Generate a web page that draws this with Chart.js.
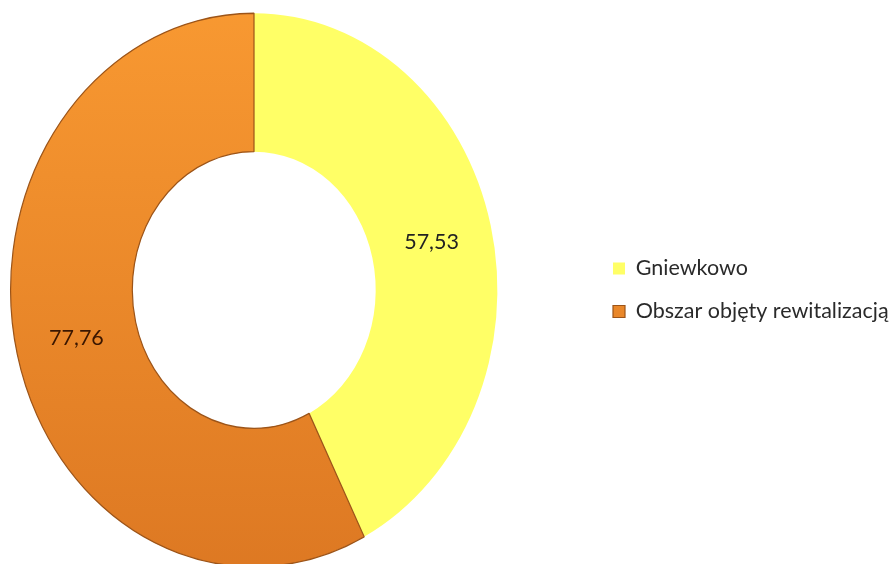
<!DOCTYPE html>
<html>
<head>
<meta charset="utf-8">
<script src="https://cdn.jsdelivr.net/npm/chart.js@4/dist/chart.umd.min.js"></script>
<style>
    html, body { margin: 0; padding: 0; background: #fff; }
    #wrap { width: 890px; height: 564px; }
</style>
</head>
<body>
<div id="wrap"><canvas id="myChart" width="890" height="564"></canvas></div>
<script>
const categories = ['Gniewkowo', 'Obszar objęty rewitalizacją'];
const values = [57.53, 77.76];
const sliceColors = ['#FFFF66', '#F0892B'];

// Excel squashed the ring a bit - stretch it vertically
const stretchY = 1.137;

function sliceFill(context) {
    const chart = context.chart;
    if (context.dataIndex === 0) return sliceColors[0];
    if (!chart.chartArea) return sliceColors[1];
    const g = chart.ctx.createLinearGradient(0, 20, 0, 560);
    g.addColorStop(0, '#F99A32');
    g.addColorStop(1, '#DC7722');
    return g;
}

const ringPlugin = {
    id: 'ring',
    beforeDatasetsDraw(chart) {
        const arc = chart.getDatasetMeta(0).data[0];
        const ctx = chart.ctx;
        ctx.save();
        ctx.translate(arc.x, arc.y);
        ctx.scale(1, stretchY);
        ctx.translate(-arc.x, -arc.y);
    },
    afterDatasetsDraw(chart) {
        const ctx = chart.ctx;
        ctx.restore();
        // value labels
        const arcs = chart.getDatasetMeta(0).data;
        ctx.save();
        ctx.font = '21.5px Lato';
        ctx.textAlign = 'center';
        ctx.textBaseline = 'middle';
        arcs.forEach((arc, i) => {
            const p = arc.tooltipPosition(true);
            const y = arc.y + (p.y - arc.y) * stretchY;
            ctx.fillStyle = i === 0 ? '#222222' : '#3a1600';
            ctx.fillText(values[i].toFixed(2).replace('.', ','), p.x, y);
        });
        ctx.restore();
    }
};

var ctx = document.getElementById('myChart').getContext('2d');
var myChart = new Chart(ctx, {
    type: 'doughnut',
    data: {
        labels: categories,
        datasets: [{
            data: values,
            backgroundColor: sliceFill,
            borderColor: ['#FFFF66', '#9C5418'],
            borderWidth: [0, 1.2],
            hoverOffset: 0
        }]
    },
    options: {
        responsive: false,
        animation: false,
        cutout: '50%',
        layout: {
            padding: { left: 10, right: 0, top: 46, bottom: 30 }
        },
        plugins: {
            // empty title used as a gap between ring and legend
            title: {
                display: true,
                position: 'right',
                text: ' ',
                weight: 100,
                font: { size: 10 },
                padding: 40.75
            },
            legend: {
                display: true,
                position: 'right',
                maxWidth: 298.5,
                labels: {
                    boxWidth: 12,
                    boxHeight: 12,
                    padding: 21.5,
                    color: '#2a2a2a',
                    font: { family: 'Lato', size: 21.5 }
                }
            },
            tooltip: { enabled: false }
        }
    },
    plugins: [ringPlugin]
});
</script>
</body>
</html>
